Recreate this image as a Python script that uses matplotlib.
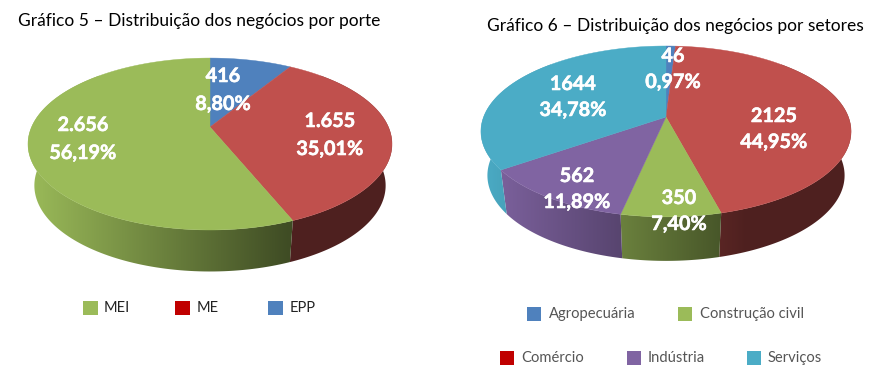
"""Two fake-3D pie charts: distribuição dos negócios por porte e por setores."""

import matplotlib

matplotlib.use("Agg")
import matplotlib.patheffects as pe
import matplotlib.pyplot as plt
import numpy as np
from matplotlib.colors import to_rgb
from matplotlib.patches import PathPatch, Polygon, Rectangle
from matplotlib.path import Path

plt.rcParams["font.family"] = ["Lato", "DejaVu Sans"]

# clockwise from the top of the pie
porte_values = [416, 1655, 2656]
porte_labels = ["416", "1.655", "2.656"]
porte_pct = ["8,80%", "35,01%", "56,19%"]
porte_colors = ["#4f81bd", "#c0504d", "#9bbb59"]

setor_values = [46, 2125, 350, 562, 1644]
setor_labels = ["46", "2125", "350", "562", "1644"]
setor_pct = ["0,97%", "44,95%", "7,40%", "11,89%", "34,78%"]
setor_colors = ["#4f81bd", "#c0504d", "#9bbb59", "#8064a2", "#4bacc6"]

porte_legend = ["MEI", "ME", "EPP"]
porte_legend_colors = ["#9bbb59", "#c00000", "#4f81bd"]
setor_legend = ["Agropecuária", "Construção civil", "Comércio", "Indústria", "Serviços"]
setor_legend_colors = ["#4f81bd", "#9bbb59", "#c00000", "#8064a2", "#4bacc6"]


def _rim(a, cx, cy, f, g, k):
    # circle seen in perspective, a is clockwise from the top
    u, v = np.sin(a), np.cos(a)
    den = 1 + k * v
    return cx + f * u / den, cy - g * v / den


def _pie3d(ax, values, colors, cx, cy, f, g, k, depth):
    vals = np.array(values, dtype=float)
    edges = np.concatenate([[0], np.cumsum(vals)]) / vals.sum() * 2 * np.pi
    rx = f / np.sqrt(1 - k * k)
    left = cx - rx
    cols = np.linspace(left, cx + rx, 400)
    shade = np.maximum(0.41, 1.0 - (cols - left) / (2 * rx) * 0.83)

    # side wall first: a left-to-right gradient clipped to each slice's wall.
    # The wall is a union of small quads, so its outline follows the tangent
    # from the top rim down to the narrower bottom rim.
    for i, col in enumerate(colors):
        a0, a1 = max(edges[i], np.pi / 4), min(edges[i + 1], 7 * np.pi / 4)
        if a1 <= a0:
            continue
        angles = np.linspace(a0, a1, 120)
        xs, ys = _rim(angles, cx, cy, f, g, k)
        bx = cx + (xs - cx) * 0.965
        quads = [
            Path([(xs[j], ys[j]), (xs[j + 1], ys[j + 1]), (bx[j + 1], ys[j + 1] + depth),
                  (bx[j], ys[j] + depth), (xs[j], ys[j])], closed=True)
            for j in range(len(xs) - 1)
        ]
        wall = PathPatch(Path.make_compound_path(*quads), facecolor="none", edgecolor="none",
                         transform=ax.transData)
        ax.add_patch(wall)
        grad = shade[None, :, None] * np.array(to_rgb(col))[None, None, :]
        im = ax.imshow(grad, extent=(left, cx + rx, cy + g * 2, cy - g), aspect="auto",
                       interpolation="bilinear", zorder=1)
        im.set_clip_path(wall)

    # top face
    for i, col in enumerate(colors):
        n = max(2, int((edges[i + 1] - edges[i]) / np.radians(0.7)))
        angles = np.linspace(edges[i], edges[i + 1], n)
        xs, ys = _rim(angles, cx, cy, f, g, k)
        pts = [(cx, cy)] + list(zip(xs, ys))
        ax.add_patch(Polygon(pts, closed=True, facecolor=col, edgecolor=col, linewidth=0.3, zorder=2))


def _slice_text(ax, positions, labels, pcts, gap):
    effects = [pe.withStroke(linewidth=0.4, foreground="white")]
    for (x, y), lab, pct in zip(positions, labels, pcts):
        for yy, s in ((y, lab), (y + gap, pct)):
            ax.text(x, yy, s, color="white", fontsize=14.3, fontweight="bold", ha="center",
                    va="center", path_effects=effects, zorder=3)


def _legend(ax, positions, labels, colors, size, text_color, fontsize):
    for (sx, tx, y), lab, col in zip(positions, labels, colors):
        ax.add_patch(Rectangle((sx, y - size / 2), size, size, facecolor=col, edgecolor="none"))
        ax.text(tx, y, lab, color=text_color, fontsize=fontsize, ha="left", va="center")


def main():
    fig = plt.figure(figsize=(8.9, 3.88), dpi=100, facecolor="white")
    ax = fig.add_axes([0, 0, 1, 1])
    ax.axis("off")

    ax.text(18, 21, "Gráfico 5 – Distribuição dos negócios por porte",
            fontsize=12.55, color="black", ha="left", va="center")
    ax.text(487, 26, "Gráfico 6 – Distribuição dos negócios por setores",
            fontsize=12.55, color="black", ha="left", va="center")

    _pie3d(ax, porte_values, porte_colors, 210, 127, 178.4, 82.6, 0.198, 41.5)
    _pie3d(ax, setor_values, setor_colors, 666, 117, 182.4, 83.0, 0.169, 44)

    _slice_text(ax, [(223, 76), (330, 121), (83, 125)], porte_labels, porte_pct, 28)
    _slice_text(ax, [(673, 56), (774, 116), (679, 198), (577, 176), (573, 84)],
                setor_labels, setor_pct, 26)

    _legend(ax, [(83, 104, 308), (175, 197, 308), (268, 290, 308)],
            porte_legend, porte_legend_colors, 14.5, "#222222", 10.5)
    _legend(ax, [(527, 549, 314), (678, 700, 314), (500, 521, 358), (627, 648, 358), (747, 768, 358)],
            setor_legend, setor_legend_colors, 13.5, "#555555", 10.6)

    # imshow resets the limits, so set them last
    ax.set_xlim(0, 890)
    ax.set_ylim(388, 0)
    fig.savefig("out.png", dpi=100)


if __name__ == "__main__":
    main()
